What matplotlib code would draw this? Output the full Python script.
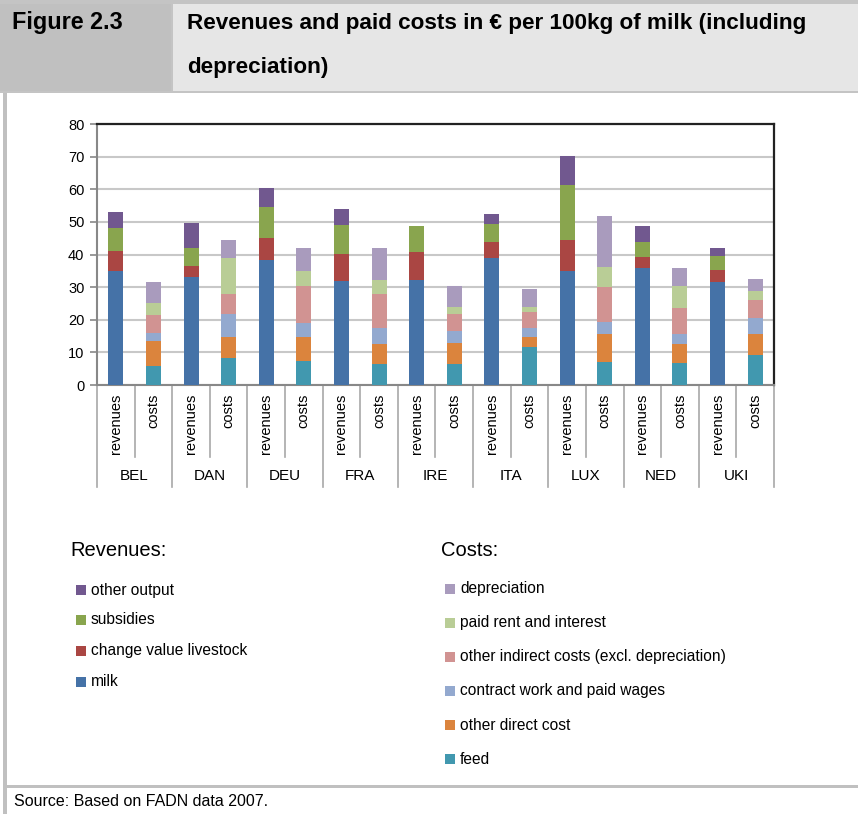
import matplotlib
matplotlib.use("Agg")
import matplotlib.pyplot as plt
from matplotlib.patches import Rectangle
from matplotlib.lines import Line2D
import numpy as np

# ---------------- data ----------------
countries = ["BEL", "DAN", "DEU", "FRA", "IRE", "ITA", "LUX", "NED", "UKI"]
bar_labels = ["revenues", "costs"]

# revenues (stacked, bottom -> top)
milk            = [34.9, 33.0, 38.3, 31.8, 32.2, 39.0, 35.0, 35.9, 31.6]
change_value    = [6.2, 3.5, 6.8, 8.4, 8.6, 4.9, 9.5, 3.4, 3.7]
subsidies       = [7.1, 5.5, 9.4, 8.9, 8.0, 5.5, 16.8, 4.6, 4.3]
other_output    = [4.9, 7.7, 5.9, 4.9, 0.0, 3.1, 8.9, 4.9, 2.4]

# costs (stacked, bottom -> top)
feed            = [5.8, 8.3, 7.4, 6.4, 6.4, 11.7, 7.1, 6.7, 9.2]
other_direct    = [7.7, 6.4, 7.3, 6.2, 6.5, 3.0, 8.5, 5.9, 6.4]
contract_wages  = [2.5, 7.1, 4.3, 4.9, 3.7, 2.8, 3.7, 3.0, 5.0]
other_indirect  = [5.5, 6.1, 11.4, 10.4, 5.2, 4.9, 10.8, 8.0, 5.5]
rent_interest   = [3.7, 11.1, 4.6, 4.3, 2.1, 1.5, 6.1, 6.8, 2.7]
depreciation    = [6.4, 5.5, 7.0, 9.8, 6.5, 5.5, 15.6, 5.5, 3.7]

rev_series = [("milk", milk, "#4572A7"),
              ("change value livestock", change_value, "#AA4643"),
              ("subsidies", subsidies, "#89A54E"),
              ("other output", other_output, "#71588F")]
cost_series = [("feed", feed, "#4198AF"),
               ("other direct cost", other_direct, "#DB843D"),
               ("contract work and paid wages", contract_wages, "#93A9CF"),
               ("other indirect costs (excl. depreciation)", other_indirect, "#D19392"),
               ("paid rent and interest", rent_interest, "#B9CD96"),
               ("depreciation", depreciation, "#A99BBD")]

# ---------------- figure ----------------
W, H = 858, 814
fig = plt.figure(figsize=(W / 100, H / 100), dpi=100)
fig.patch.set_facecolor("white")

REG = ["Liberation Sans", "DejaVu Sans"]


def fx(x):
    return x / W


def fy(y):
    return 1 - y / H


def rect(x0, y0, x1, y1, color):
    fig.add_artist(Rectangle((fx(x0), fy(y1)), fx(x1) - fx(x0), fy(y0) - fy(y1),
                             transform=fig.transFigure, facecolor=color,
                             edgecolor="none", zorder=0))


# header
rect(0, 0, W, 93, "#c4c4c4")
rect(0, 4, 171, 91, "#c0c0c0")
rect(173, 4, W, 91, "#e6e6e6")
# left border and bottom separator
rect(3, 93, 7, H, "#c0c0c0")
rect(3, 785, W, 788, "#c0c0c0")

fig.text(fx(12), fy(23), "Figure 2.3", family=REG, fontweight="bold",
         fontsize=16.8, va="center", ha="left")
fig.text(fx(187), fy(23), "Revenues and paid costs in \u20ac per 100kg of milk (including",
         family=REG, fontweight="bold", fontsize=16.2, va="center", ha="left")
fig.text(fx(187), fy(68), "depreciation)", family=REG, fontweight="bold",
         fontsize=16.2, va="center", ha="left")
fig.text(fx(14), fy(802), "Source: Based on FADN data 2007.", family=REG,
         fontsize=11.5, va="center", ha="left")

# ---------------- axes ----------------
L, R, T, B = 97, 774, 124, 385
ax = fig.add_axes([fx(L), fy(B), fx(R) - fx(L), fy(T) - fy(B)])
n = len(countries)
xr = np.arange(n) * 2
xc = xr + 1
bw = 0.4

bottom = np.zeros(n)
for name, vals, col in rev_series:
    v = np.array(vals)
    ax.bar(xr, v, bw, bottom=bottom, color=col, zorder=3, linewidth=0)
    bottom += v
bottom = np.zeros(n)
for name, vals, col in cost_series:
    v = np.array(vals)
    ax.bar(xc, v, bw, bottom=bottom, color=col, zorder=3, linewidth=0)
    bottom += v

ax.set_xlim(-0.5, 2 * n - 0.5)
ax.set_ylim(0, 80)
ax.set_yticks(np.arange(0, 81, 10))
ax.yaxis.grid(True, color="#c8c8c8", linewidth=1.5, zorder=0)
ax.set_axisbelow(True)
ax.set_xticks([])
ax.tick_params(axis="y", length=5, width=1.2, color="#888888", pad=4,
               labelsize=10.5)
for lbl in ax.get_yticklabels():
    lbl.set_family(REG)
for s in ["top", "right"]:
    ax.spines[s].set_color("#222222")
    ax.spines[s].set_linewidth(1.6)
for s in ["left", "bottom"]:
    ax.spines[s].set_color("#888888")
    ax.spines[s].set_linewidth(1.5)

trans = ax.get_xaxis_transform()
axh = B - T


def ay(ypx):
    return -(ypx - B) / axh


for i in range(n):
    ax.text(xr[i], ay(394), bar_labels[0], rotation=90, ha="center", va="top",
            transform=trans, family=REG, fontsize=10.5)
    ax.text(xc[i], ay(394), bar_labels[1], rotation=90, ha="center", va="top",
            transform=trans, family=REG, fontsize=10.5)
    ax.text(xr[i] + 0.5, ay(476), countries[i], ha="center", va="center",
            transform=trans, family=REG, fontsize=11)
    ax.add_line(Line2D([xr[i] + 0.5, xr[i] + 0.5], [0, ay(457)], transform=trans,
                       color="#a8a8a8", linewidth=1.2, clip_on=False))
for i in range(n + 1):
    xs = 2 * i - 0.5
    ax.add_line(Line2D([xs, xs], [0, ay(487)], transform=trans,
                       color="#a8a8a8", linewidth=1.2, clip_on=False))

# ---------------- legends ----------------
fig.text(fx(70), fy(550), "Revenues:", family=REG, fontsize=14.5,
         va="center", ha="left")
fig.text(fx(441), fy(550), "Costs:", family=REG, fontsize=14.5,
         va="center", ha="left")

rev_y = [590, 620, 651, 682]
for (name, vals, col), yy in zip(reversed(rev_series), rev_y):
    rect(76, yy - 5, 86, yy + 5, col)
    fig.text(fx(91), fy(yy), name, family=REG, fontsize=11.2,
             va="center", ha="left")

cost_y = [589, 623, 657, 691, 725, 759]
for (name, vals, col), yy in zip(reversed(cost_series), cost_y):
    rect(445, yy - 5, 455, yy + 5, col)
    fig.text(fx(460), fy(yy), name, family=REG, fontsize=11.2,
             va="center", ha="left")

fig.savefig("out.png", dpi=100, facecolor="white")
